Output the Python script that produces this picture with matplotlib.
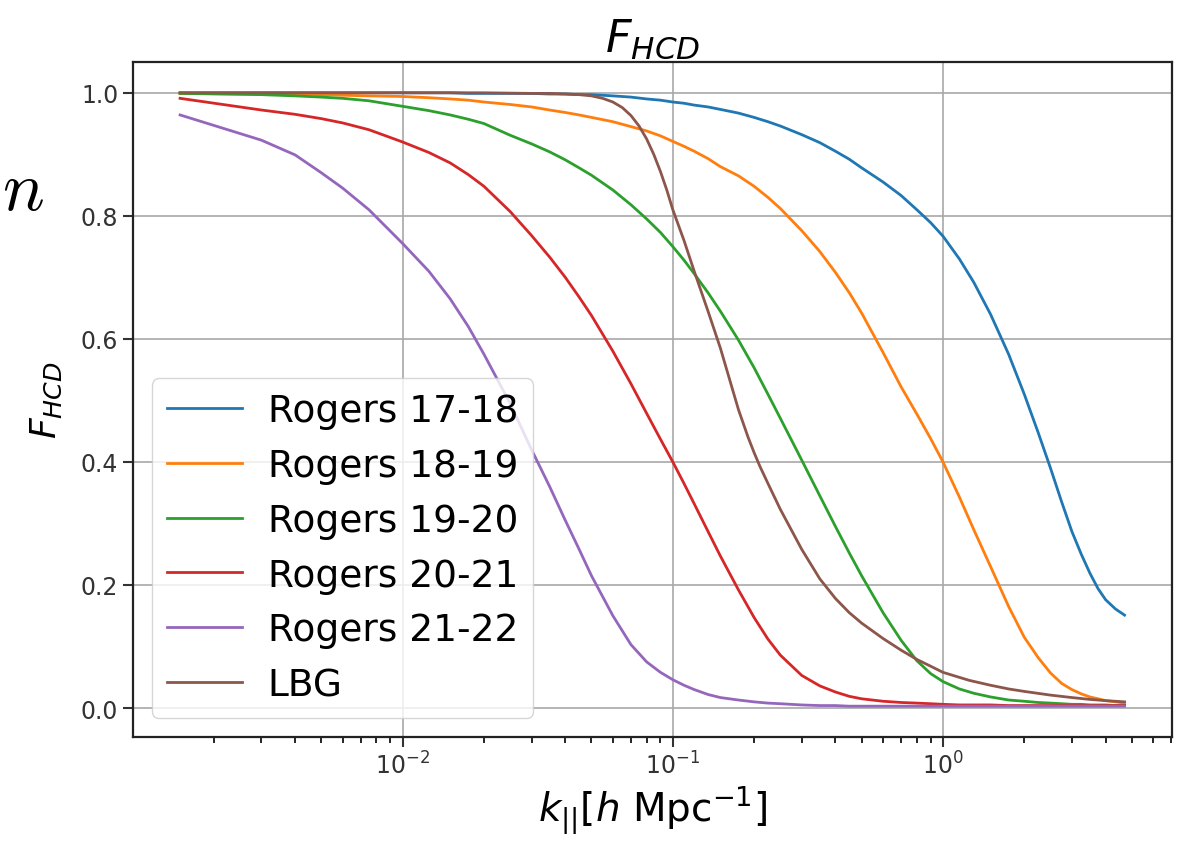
import matplotlib
matplotlib.use('Agg')
import matplotlib.pyplot as plt
import numpy as np

# k grid shared by the Rogers templates [h/Mpc]
k = [0.0015, 0.003, 0.004, 0.005, 0.006, 0.0075, 0.01, 0.0125, 0.015, 0.0175,
     0.02, 0.025, 0.03, 0.035, 0.04, 0.045, 0.05, 0.06, 0.07, 0.08,
     0.09, 0.1, 0.11, 0.12, 0.135, 0.15, 0.175, 0.2, 0.225, 0.25,
     0.3, 0.35, 0.4, 0.45, 0.5, 0.6, 0.7, 0.8, 0.9, 1.0,
     1.15, 1.3, 1.5, 1.75, 2.0, 2.25, 2.5, 2.75, 3.0, 3.25,
     3.5, 3.75, 4.0, 4.35, 4.7]

f_1718 = [1.0, 1.0, 1.0, 1.0, 1.0, 1.0, 1.0, 1.0, 1.0, 0.999,
          0.999, 0.999, 0.999, 0.998, 0.998, 0.997, 0.997, 0.995, 0.993, 0.99,
          0.988, 0.985, 0.983, 0.98, 0.977, 0.973, 0.967, 0.96, 0.953, 0.946,
          0.932, 0.919, 0.905, 0.892, 0.878, 0.855, 0.833, 0.81, 0.789, 0.767,
          0.73, 0.692, 0.64, 0.575, 0.51, 0.448, 0.39, 0.335, 0.287, 0.25,
          0.219, 0.194, 0.176, 0.161, 0.151]
f_1819 = [0.999, 0.998, 0.998, 0.997, 0.996, 0.995, 0.994, 0.992, 0.99, 0.988,
          0.985, 0.981, 0.977, 0.972, 0.968, 0.964, 0.96, 0.953, 0.945, 0.938,
          0.93, 0.921, 0.913, 0.905, 0.893, 0.88, 0.865, 0.848, 0.83, 0.812,
          0.776, 0.742, 0.708, 0.675, 0.642, 0.578, 0.522, 0.478, 0.438, 0.40,
          0.343, 0.29, 0.23, 0.165, 0.115, 0.082, 0.057, 0.04, 0.03, 0.023,
          0.018, 0.015, 0.012, 0.01, 0.008]
f_1920 = [0.999, 0.997, 0.995, 0.993, 0.991, 0.987, 0.978, 0.971, 0.964, 0.957,
          0.95, 0.931, 0.917, 0.904, 0.891, 0.878, 0.866, 0.842, 0.818, 0.795,
          0.773, 0.75, 0.728, 0.706, 0.675, 0.645, 0.598, 0.553, 0.51, 0.471,
          0.403, 0.345, 0.295, 0.252, 0.215, 0.155, 0.11, 0.077, 0.056, 0.043,
          0.031, 0.024, 0.018, 0.013, 0.011, 0.009, 0.008, 0.007, 0.006, 0.006,
          0.005, 0.005, 0.005, 0.004, 0.004]
f_2021 = [0.991, 0.972, 0.965, 0.958, 0.951, 0.94, 0.92, 0.903, 0.886, 0.867,
          0.848, 0.807, 0.768, 0.733, 0.70, 0.668, 0.638, 0.58, 0.527, 0.479,
          0.437, 0.40, 0.365, 0.332, 0.287, 0.247, 0.192, 0.147, 0.112, 0.086,
          0.053, 0.036, 0.026, 0.019, 0.015, 0.011, 0.009, 0.008, 0.007, 0.006,
          0.005, 0.005, 0.005, 0.004, 0.004, 0.004, 0.004, 0.004, 0.004, 0.004,
          0.004, 0.004, 0.004, 0.004, 0.004]
f_2122 = [0.964, 0.923, 0.899, 0.87, 0.845, 0.81, 0.755, 0.71, 0.665, 0.62,
          0.575, 0.495, 0.42, 0.36, 0.305, 0.258, 0.215, 0.15, 0.103, 0.075,
          0.058, 0.046, 0.037, 0.03, 0.022, 0.017, 0.013, 0.01, 0.008, 0.007,
          0.005, 0.004, 0.004, 0.003, 0.003, 0.003, 0.003, 0.003, 0.003, 0.003,
          0.003, 0.003, 0.003, 0.003, 0.003, 0.003, 0.003, 0.003, 0.003, 0.003,
          0.003, 0.003, 0.003, 0.003, 0.003]

# LBG template has a sharp knee, sampled on its own grid
k_lbg = [0.0015, 0.003, 0.005, 0.01, 0.02, 0.03, 0.035, 0.04, 0.045, 0.05,
         0.055, 0.06, 0.065, 0.07, 0.075, 0.08, 0.085, 0.09, 0.095, 0.1,
         0.11, 0.12, 0.135, 0.15, 0.175, 0.19, 0.2, 0.21, 0.225, 0.25,
         0.3, 0.35, 0.4, 0.45, 0.5, 0.6, 0.7, 0.8, 0.9, 1.0,
         1.25, 1.5, 1.75, 2.0, 2.5, 3.0, 3.5, 4.0, 4.7]
f_lbg = [1.0, 1.0, 1.0, 1.0, 1.0, 0.999, 0.999, 0.998, 0.997, 0.995,
         0.991, 0.985, 0.976, 0.963, 0.946, 0.925, 0.9, 0.872, 0.842, 0.81,
         0.76, 0.71, 0.645, 0.585, 0.485, 0.44, 0.415, 0.393, 0.365, 0.323,
         0.258, 0.21, 0.178, 0.155, 0.138, 0.113, 0.094, 0.079, 0.068, 0.058,
         0.045, 0.037, 0.031, 0.027, 0.021, 0.017, 0.014, 0.012, 0.01]

labels = ['Rogers 17-18', 'Rogers 18-19', 'Rogers 19-20', 'Rogers 20-21',
          'Rogers 21-22', 'LBG']

fig = plt.figure(figsize=(11.86, 8.53), dpi=100)
ax = fig.add_axes([0.112, 0.135, 0.876, 0.791])

for f, lab in zip([f_1718, f_1819, f_1920, f_2021, f_2122], labels[:5]):
    ax.plot(k, f, lw=2.0, label=lab)
ax.plot(k_lbg, f_lbg, lw=2.0, label=labels[5])

ax.set_xscale('log')
ax.set_yticks([0.0, 0.2, 0.4, 0.6, 0.8, 1.0])
ax.grid(True, color='#a8a8a8', lw=1.2)
ax.tick_params(labelsize=17, width=1.5, length=7, colors='#333333')
ax.tick_params(which='minor', width=1.2, length=4)
for s in ax.spines.values():
    s.set_linewidth(1.6)
    s.set_color('#222222')

ax.set_title(r'$F_{HCD}$', fontsize=32, pad=8)
ax.set_ylabel(r'$F_{HCD}$', fontsize=26, labelpad=12)
ax.set_xlabel(r'$k_{||} [h$ Mpc$^{-1}]$', fontsize=28)
ax.legend(loc='lower left', fontsize=27, handlelength=2.0, handletextpad=0.7)

# leftover glyph at the left edge
fig.text(0.002, 0.754, r'$n$', fontsize=50, math_fontfamily='cm')

fig.savefig('out.png', dpi=100)
